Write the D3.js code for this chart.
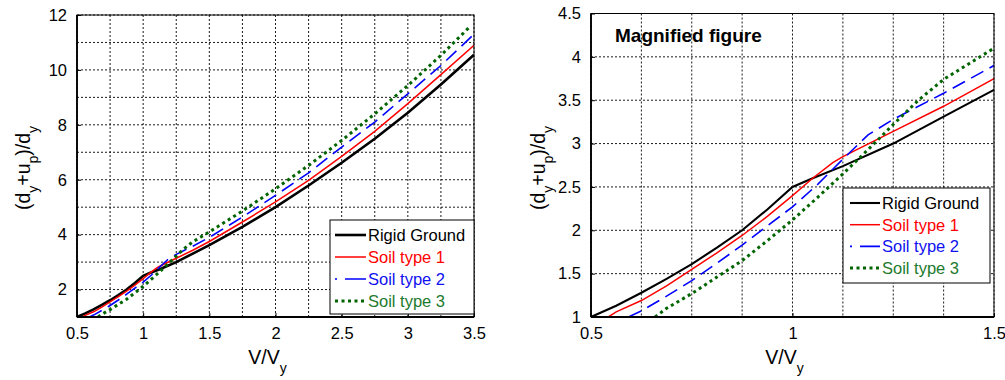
<!DOCTYPE html>
<html>
<head>
<meta charset="utf-8">
<script src="https://cdn.jsdelivr.net/npm/d3@7"></script>
<style>
  body { margin: 0; background: #fff; }
  svg { display: block; font-family: "Liberation Sans", Arial, sans-serif; }
</style>
</head>
<body>
<svg id="chart" width="1005" height="380"></svg>
<script>
// values (same curves shown in both panels)
const seriesNames = ['Rigid Ground', 'Soil type 1', 'Soil type 2', 'Soil type 3'];

const rigidX = [0.5, 0.5625, 0.625, 0.6875, 0.75, 0.8125, 0.875, 0.9375, 1.0, 1.05, 1.125, 1.25, 1.375, 1.5, 1.75, 2.0, 2.25, 2.5, 2.75, 3.0, 3.25, 3.5];
const rigidY = [1.0, 1.13, 1.28, 1.44, 1.61, 1.80, 2.0, 2.24, 2.5, 2.6, 2.74, 3.0, 3.31, 3.62, 4.28, 5.0, 5.79, 6.62, 7.49, 8.44, 9.47, 10.55];

const soil1X = [0.543, 0.5625, 0.625, 0.6875, 0.75, 0.8125, 0.875, 0.9375, 1.0, 1.05, 1.1, 1.125, 1.25, 1.375, 1.5, 1.75, 2.0, 2.25, 2.5, 2.75, 3.0, 3.25, 3.5];
const soil1Y = [1.0, 1.06, 1.19, 1.36, 1.55, 1.74, 1.94, 2.16, 2.40, 2.6, 2.78, 2.85, 3.14, 3.43, 3.75, 4.46, 5.19, 5.98, 6.85, 7.76, 8.77, 9.83, 10.9];

const soil2X = [0.593, 0.625, 0.6875, 0.75, 0.8125, 0.875, 0.9375, 1.0, 1.0625, 1.125, 1.1875, 1.25, 1.375, 1.5, 1.75, 2.0, 2.25, 2.5, 2.75, 3.0, 3.25, 3.5];
const soil2Y = [1.0, 1.07, 1.24, 1.42, 1.62, 1.83, 2.05, 2.27, 2.53, 2.82, 3.1, 3.28, 3.58, 3.9, 4.64, 5.43, 6.25, 7.19, 8.1, 9.13, 10.16, 11.3];

const soil3X = [0.659, 0.6875, 0.75, 0.8125, 0.875, 0.9375, 1.0, 1.0625, 1.125, 1.1875, 1.25, 1.3125, 1.375, 1.5, 1.75, 2.0, 2.25, 2.5, 2.75, 3.0, 3.25, 3.47];
const soil3Y = [1.0, 1.1, 1.27, 1.46, 1.65, 1.88, 2.12, 2.38, 2.65, 2.93, 3.22, 3.5, 3.74, 4.1, 4.86, 5.67, 6.52, 7.43, 8.4, 9.43, 10.53, 11.58];

// axis ticks and grids
const leftXTicks = [0.5, 1, 1.5, 2, 2.5, 3, 3.5];
const leftXGrid = d3.range(0.5, 3.5001, 0.25);
const leftYTicks = [2, 4, 6, 8, 10, 12];
const leftYGrid = d3.range(1, 12.001, 1);

const rightXTicks = [0.5, 1, 1.5];
const rightXGrid = d3.range(0.5, 1.5001, 0.125);
const rightYTicks = [1, 1.5, 2, 2.5, 3, 3.5, 4, 4.5];
const rightYGrid = d3.range(1, 4.5001, 0.5);

const styles = [
    { color: '#000000', width: 2.6, dash: null, text: '#000000' },
    { color: '#ff0000', width: 1.5, dash: null, text: '#ff0000' },
    { color: '#0000ff', width: 1.6, dash: '14,7', text: '#1010f0' },
    { color: '#006400', width: 3, dash: '3,3.5', text: '#1d7a2d' }
];

const curves = [
    d3.zip(rigidX, rigidY),
    d3.zip(soil1X, soil1Y),
    d3.zip(soil2X, soil2Y),
    d3.zip(soil3X, soil3Y)
];

const svg = d3.select('#chart');

function drawPanel(cfg) {
    const x = d3.scaleLinear().domain(cfg.xDomain).range([cfg.left, cfg.right]);
    const y = d3.scaleLinear().domain(cfg.yDomain).range([cfg.bottom, cfg.top]);
    const g = svg.append('g');

    // dotted grid
    g.append('g').selectAll('line').data(cfg.xGrid).join('line')
        .attr('x1', d => x(d)).attr('x2', d => x(d))
        .attr('y1', cfg.top).attr('y2', cfg.bottom)
        .attr('stroke', '#000').attr('stroke-width', 0.9)
        .attr('stroke-dasharray', '2,2');
    g.append('g').selectAll('line').data(cfg.yGrid).join('line')
        .attr('y1', d => y(d)).attr('y2', d => y(d))
        .attr('x1', cfg.left).attr('x2', cfg.right)
        .attr('stroke', '#000').attr('stroke-width', 0.9)
        .attr('stroke-dasharray', '2,2');

    // clip for curves
    const clipId = 'clip' + cfg.id;
    svg.append('clipPath').attr('id', clipId).append('rect')
        .attr('x', cfg.left).attr('y', cfg.top)
        .attr('width', cfg.right - cfg.left).attr('height', cfg.bottom - cfg.top);

    const line = d3.line().x(d => x(d[0])).y(d => y(d[1]));
    const s = cfg.scaleWidth;
    g.append('g').attr('clip-path', `url(#${clipId})`)
        .selectAll('path').data(curves).join('path')
        .attr('d', line)
        .attr('fill', 'none')
        .attr('stroke', (d, i) => styles[i].color)
        .attr('stroke-width', (d, i) => styles[i].width * (i === 0 ? s : 1))
        .attr('stroke-dasharray', (d, i) => styles[i].dash);

    // axes (matlab style: ticks inside, labels outside)
    const xAxis = d3.axisBottom(x).tickValues(cfg.xTicks).tickSize(-4).tickPadding(10)
        .tickFormat(d3.format('~g'));
    g.append('g').attr('transform', `translate(0,${cfg.bottom})`).call(xAxis)
        .call(a => a.select('.domain').remove())
        .call(a => a.selectAll('text').attr('font-size', 16.5).attr('fill', '#000')
            .attr('font-family', '"Liberation Sans", Arial, sans-serif').attr('dy', '0.75em'));
    const yAxis = d3.axisLeft(y).tickValues(cfg.yTicks).tickSize(-4).tickPadding(10)
        .tickFormat(d3.format('~g'));
    g.append('g').attr('transform', `translate(${cfg.left},0)`).call(yAxis)
        .call(a => a.select('.domain').remove())
        .call(a => a.selectAll('text').attr('font-size', 16.5).attr('fill', '#000')
            .attr('font-family', '"Liberation Sans", Arial, sans-serif'));

    // frame
    g.append('rect')
        .attr('x', cfg.left).attr('y', cfg.top)
        .attr('width', cfg.right - cfg.left).attr('height', cfg.bottom - cfg.top)
        .attr('fill', 'none').attr('stroke', '#000').attr('stroke-width', 1);
    g.append('line').attr('x1', cfg.left).attr('x2', cfg.left)
        .attr('y1', cfg.top).attr('y2', cfg.bottom)
        .attr('stroke', '#000').attr('stroke-width', 1.8);
    g.append('line').attr('x1', cfg.left).attr('x2', cfg.right)
        .attr('y1', cfg.bottom).attr('y2', cfg.bottom)
        .attr('stroke', '#000').attr('stroke-width', 1.8);

    // axis titles
    const xt = g.append('text').attr('x', (cfg.left + cfg.right) / 2 - 8).attr('y', 364)
        .attr('text-anchor', 'middle').attr('font-size', 19.5).attr('fill', '#000');
    xt.append('tspan').text('V/V');
    xt.append('tspan').attr('dy', 9).attr('font-size', 14).text('y');

    const yt = g.append('text')
        .attr('transform', `translate(${cfg.yTitleX},${cfg.yTitleY}) rotate(-90)`)
        .attr('text-anchor', 'middle').attr('font-size', 19.5).attr('fill', '#000');
    yt.append('tspan').text('(d');
    yt.append('tspan').attr('dy', 8).attr('font-size', 14).text('y');
    yt.append('tspan').attr('dy', -8).text('+u');
    yt.append('tspan').attr('dy', 8).attr('font-size', 14).text('p');
    yt.append('tspan').attr('dy', -8).text(')/d');
    yt.append('tspan').attr('dy', 8).attr('font-size', 14).text('y');

    // legend
    const lg = g.append('g');
    lg.append('rect')
        .attr('x', cfg.legend.x).attr('y', cfg.legend.y)
        .attr('width', cfg.legend.w).attr('height', cfg.legend.h)
        .attr('fill', '#fff').attr('stroke', '#000').attr('stroke-width', 1);
    const rows = lg.selectAll('g.row').data(seriesNames).join('g')
        .attr('class', 'row')
        .attr('transform', (d, i) => `translate(${cfg.legend.x},${cfg.legend.y + cfg.legend.first + i * cfg.legend.step})`);
    rows.append('line')
        .attr('x1', cfg.legend.l1).attr('x2', cfg.legend.l2).attr('y1', 0).attr('y2', 0)
        .attr('stroke', (d, i) => styles[i].color)
        .attr('stroke-width', (d, i) => styles[i].width * (i === 0 ? s : 1))
        .attr('stroke-dasharray', (d, i) => i === 2 ? '2,8,30' : styles[i].dash);
    rows.append('text')
        .attr('x', cfg.legend.l2 + 2).attr('y', 0).attr('dy', '0.36em')
        .attr('font-size', 16.5).attr('fill', (d, i) => styles[i].text)
        .text(d => d);

    if (cfg.title) {
        g.append('text').attr('x', cfg.title.x).attr('y', cfg.title.y)
            .attr('font-size', 19).attr('font-weight', 'bold').attr('fill', '#000')
            .text(cfg.title.text);
    }
}

drawPanel({
    id: 'L', left: 77, right: 474, top: 15, bottom: 317,
    xDomain: [0.5, 3.5], yDomain: [1, 12],
    xTicks: leftXTicks, xGrid: leftXGrid, yTicks: leftYTicks, yGrid: leftYGrid,
    scaleWidth: 1, yTitleX: 30, yTitleY: 168,
    legend: { x: 330, y: 220, w: 144, h: 94, first: 15, step: 22, l1: 5, l2: 36 }
});

drawPanel({
    id: 'R', left: 591, right: 994, top: 13.5, bottom: 317,
    xDomain: [0.5, 1.5], yDomain: [1, 4.5],
    xTicks: rightXTicks, xGrid: rightXGrid, yTicks: rightYTicks, yGrid: rightYGrid,
    scaleWidth: 0.8, yTitleX: 545, yTitleY: 168,
    legend: { x: 843, y: 188, w: 147, h: 95, first: 15, step: 21.7, l1: 7, l2: 37 },
    title: { x: 615, y: 42, text: 'Magnified figure' }
});
</script>
</body>
</html>
